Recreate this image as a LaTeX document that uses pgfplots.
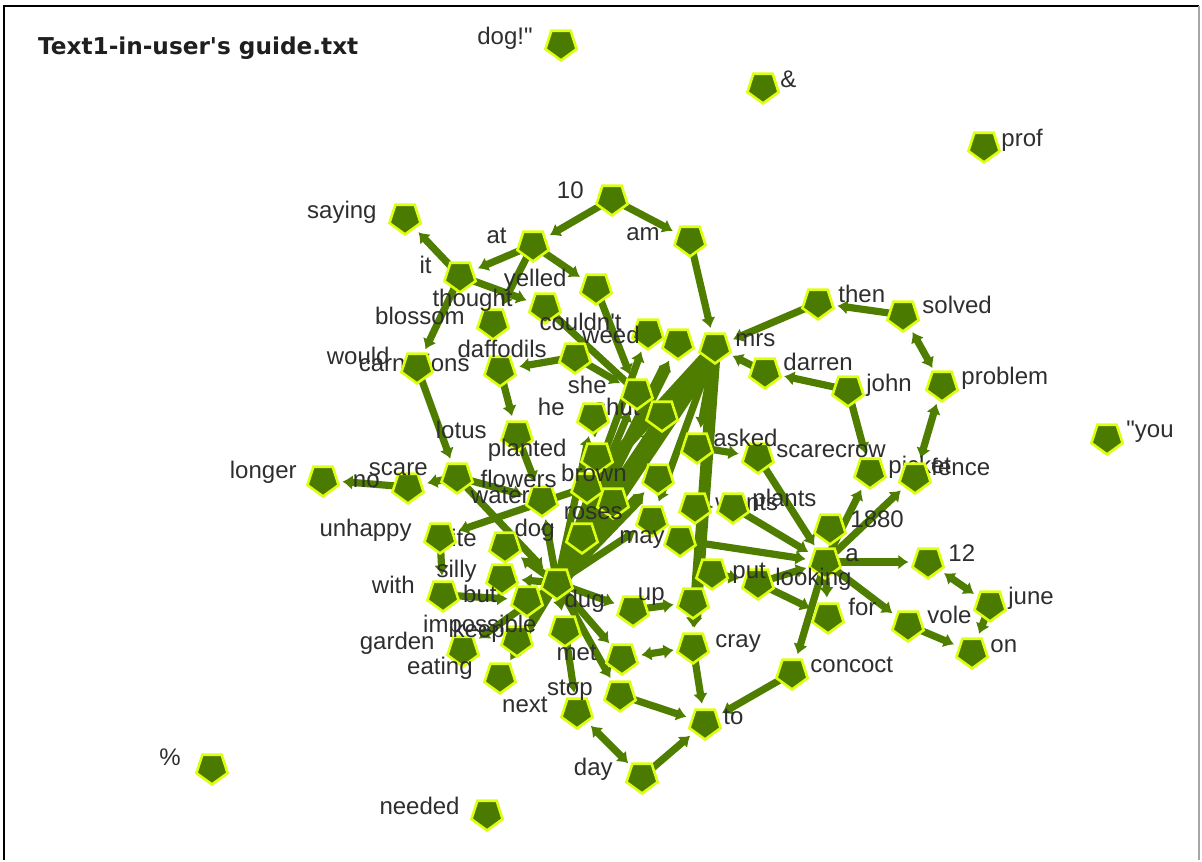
\documentclass[border=0pt]{standalone}
\usepackage{pgfplots}
\pgfplotsset{compat=1.18}
\usepackage{fontspec}
\setmainfont{Liberation Sans}[Ligatures=TeXOff]
\newfontfamily\titlefont{DejaVu Sans}[Ligatures=TeXOff]
\usetikzlibrary{arrows.meta}
\definecolor{nodeg}{HTML}{4B7A00}
\definecolor{edgeg}{HTML}{4E7D00}
\definecolor{nodey}{HTML}{DDFF10}
\definecolor{labc}{HTML}{2E2E2E}
\pgfplotsset{
  e/.style={forget plot, mark=none, draw=edgeg, line width=3.6pt, -{Latex[length=5pt,width=7.5pt]}, shorten >=9.8pt},
  E/.style={e, line width=6pt},
  EE/.style={e, line width=10pt},
  ee/.style={e, {Latex[length=5pt,width=7.5pt]}-{Latex[length=5pt,width=7.5pt]}, shorten <=9.8pt},
  nodes/.style={forget plot, only marks, mark=pentagon*, mark size=8.2pt,
    mark options={fill=nodeg, draw=nodey, line width=1.3pt, rotate=180}},
  labL/.style={forget plot, only marks, mark=*, mark size=0pt, mark options={draw=none,fill=none},
    nodes near coords, point meta=explicit symbolic,
    nodes near coords style={anchor=east, inner sep=0pt, text=labc, font=\fontsize{12}{13}\selectfont, text height=0.72em, text depth=0.2em}},
  labR/.style={labL, nodes near coords style={anchor=west}},
}
\begin{document}
\begin{tikzpicture}
\begin{axis}[x=0.5pt, y=0.5pt, y dir=reverse, xmin=0, xmax=1202, ymin=0, ymax=860,
  hide axis, clip=false]
\path (axis cs:0,0) rectangle (axis cs:1202,860);
\draw[black, line width=1.3pt] (axis cs:4,860) -- (axis cs:4,6) -- (axis cs:1199,6);
\draw[black!35, line width=0.6pt] (axis cs:1199,6) -- (axis cs:1199,860);
\node[anchor=base west, font=\titlefont\bfseries\fontsize{11.6}{13}\selectfont, text=black!88] at (axis cs:31,55) {Text1-in-user's guide.txt};

% ---------- edges ----------
\addplot[E]  coordinates {(557,583) (678,343)};
\addplot[EE] coordinates {(557,583) (715,347)};
\addplot[e]  coordinates {(557,583) (648,333)};
\addplot[e]  coordinates {(557,583) (637,393)};
\addplot[e]  coordinates {(557,583) (662,415)};
\addplot[E]  coordinates {(557,583) (658,478)};
\addplot[e]  coordinates {(557,583) (652,520)};
\addplot[e]  coordinates {(557,583) (593,417)};
\addplot[E]  coordinates {(715,347) (693,647)};
\addplot[e]  coordinates {(715,347) (652,520)};
\addplot[e]  coordinates {(715,347) (613,502)};
\addplot[E]  coordinates {(715,347) (587,487)};
\addplot[e]  coordinates {(557,583) (633,610)};
\addplot[e]  coordinates {(633,610) (693,602)};
\addplot[e]  coordinates {(557,583) (502,578)};
\addplot[e]  coordinates {(557,583) (505,546)};
\addplot[e]  coordinates {(557,583) (582,537)};
\addplot[e]  coordinates {(557,583) (542,500)};
\addplot[e]  coordinates {(593,417) (597,457)};
\addplot[e]  coordinates {(612,199) (533,245)};
\addplot[e]  coordinates {(612,199) (690,240)};
\addplot[e]  coordinates {(690,240) (715,347)};
\addplot[e]  coordinates {(533,245) (460,276)};
\addplot[e]  coordinates {(460,276) (405,218)};
\addplot[e]  coordinates {(460,276) (545,307)};
\addplot[e]  coordinates {(460,276) (417,367)};
\addplot[e]  coordinates {(533,245) (596,288)};
\addplot[e]  coordinates {(533,245) (493,323)};
\addplot[e]  coordinates {(596,288) (637,393)};
\addplot[e]  coordinates {(545,307) (662,415)};
\addplot[e]  coordinates {(417,367) (457,477)};
\addplot[e]  coordinates {(500,370) (517,435)};
\addplot[e]  coordinates {(575,357) (500,370)};
\addplot[e]  coordinates {(575,357) (637,393)};
\addplot[e]  coordinates {(457,477) (408,487)};
\addplot[e]  coordinates {(408,487) (323,480)};
\addplot[e]  coordinates {(457,477) (557,583)};
\addplot[e]  coordinates {(457,477) (542,500)};
\addplot[e]  coordinates {(517,435) (542,500)};
\addplot[e]  coordinates {(587,487) (440,537)};
\addplot[e]  coordinates {(440,537) (443,595)};
\addplot[e]  coordinates {(443,595) (527,600)};
\addplot[e]  coordinates {(557,583) (517,640)};
\addplot[e]  coordinates {(557,583) (463,650)};
\addplot[e]  coordinates {(557,583) (500,677)};
\addplot[e]  coordinates {(557,583) (565,630)};
\addplot[e]  coordinates {(557,583) (622,658)};
\addplot[e]  coordinates {(557,583) (620,695)};
\addplot[e]  coordinates {(565,630) (577,712)};
\addplot[ee] coordinates {(622,658) (693,647)};
\addplot[e]  coordinates {(693,602) (693,647)};
\addplot[e]  coordinates {(693,647) (705,723)};
\addplot[e]  coordinates {(620,695) (705,723)};
\addplot[ee] coordinates {(577,712) (642,777)};
\addplot[e]  coordinates {(642,777) (705,723)};
\addplot[e]  coordinates {(792,673) (705,723)};
\addplot[e]  coordinates {(825,562) (792,673)};
\addplot[e]  coordinates {(825,562) (928,562)};
\addplot[ee] coordinates {(928,562) (990,605)};
\addplot[e]  coordinates {(990,605) (972,652)};
\addplot[e]  coordinates {(908,625) (972,652)};
\addplot[e]  coordinates {(825,562) (908,625)};
\addplot[e]  coordinates {(825,562) (828,617)};
\addplot[e]  coordinates {(758,583) (828,617)};
\addplot[e]  coordinates {(712,573) (758,583)};
\addplot[e]  coordinates {(758,583) (825,562)};
\addplot[e]  coordinates {(825,562) (870,472)};
\addplot[e]  coordinates {(825,562) (915,477)};
\addplot[e]  coordinates {(758,457) (825,562)};
\addplot[ee] coordinates {(915,477) (942,385)};
\addplot[ee] coordinates {(942,385) (903,315)};
\addplot[e]  coordinates {(903,315) (818,303)};
\addplot[e]  coordinates {(818,303) (715,347)};
\addplot[e]  coordinates {(848,390) (765,372)};
\addplot[e]  coordinates {(765,372) (715,347)};
\addplot[e]  coordinates {(848,390) (870,472)};
\addplot[e]  coordinates {(715,347) (697,447)};
\addplot[e]  coordinates {(697,447) (758,457)};
\addplot[e]  coordinates {(695,507) (733,507)};
\addplot[e]  coordinates {(733,507) (825,562)};
\addplot[e]  coordinates {(680,540) (825,562)};

% ---------- nodes (lower layer) ----------
\addplot[nodes] table {
x y
561 44
763 87
984 146
1107 438
212 768
487 814
405 218
612 199
533 245
690 240
460 276
596 288
545 307
493 323
648 333
678 343
715 347
818 303
903 315
765 372
848 390
942 385
500 370
575 357
662 415
517 435
597 457
697 447
758 457
870 472
658 478
587 487
542 500
613 502
652 520
695 507
457 477
408 487
323 480
505 546
502 578
443 595
527 600
582 537
680 540
557 583
830 528
825 562
928 562
990 605
908 625
972 652
828 617
758 583
712 573
792 673
633 610
693 602
565 630
517 640
463 650
500 677
622 658
620 695
577 712
642 777
705 723
693 647
};

% ---------- labels ----------
\addplot[labL] table[meta=t] {
x y t
533 39 dog!"
181 760 \%
460 809 needed
377 213 saying
584 193 10
507 238 at
660 235 am
432 268 it
567 281 yelled
513 301 thought
465 319 blossom
622 325 couldn't
640 338 weed
390 359 would
470 366 carnations
547 352 daffodils
607 388 she
565 410 he
640 410 shut
487 433 lotus
567 451 planted
627 476 brown
557 482 flowers
530 498 water
428 470 scare
380 482 no
297 473 longer
412 531 unhappy
477 541 quite
477 572 silly
415 588 with
497 597 but
555 531 dog
623 514 roses
665 538 may
605 602 dug
665 595 up
537 627 impossible
505 632 keep
435 644 garden
473 669 eating
597 655 met
593 690 stop
548 707 next
613 770 day
};
\addplot[labR] table[meta=t] {
x y t
780 82 \&
1001 141 prof
1126 432 "you
735 341 mrs
838 297 then
922 308 solved
783 365 darren
866 386 john
961 379 problem
713 441 asked
776 452 scarecrow
888 468 picket
931 470 fence
850 522 1880
845 556 a
948 556 12
1008 599 june
927 618 vole
990 647 on
848 610 for
775 580 looking
810 667 concoct
715 642 cray
723 719 to
732 573 put
715 505 wants
752 501 plants
};

% ---------- nodes (upper layer) ----------
\addplot[nodes] table {
x y
593 417
637 393
440 537
417 367
915 477
733 507
};
\end{axis}
\end{tikzpicture}
\end{document}
